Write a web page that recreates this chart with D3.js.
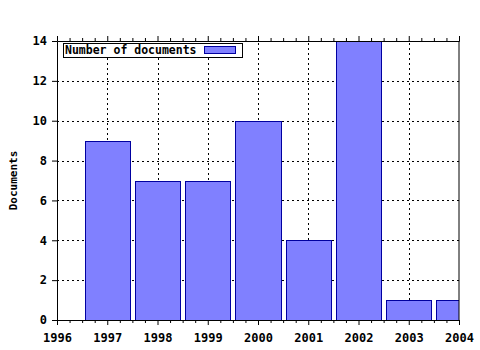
<!DOCTYPE html>
<html><head><meta charset="utf-8">
<script src="https://cdn.jsdelivr.net/npm/d3@7"></script>
<style>body{margin:0;background:#fff}svg{display:block}</style>
</head><body>
<script>
const years = [1997, 1998, 1999, 2000, 2001, 2002, 2003, 2004];
const docs = [9, 7, 7, 10, 4, 14, 1, 1];
const xTicks = [1996, 1997, 1998, 1999, 2000, 2001, 2002, 2003, 2004];
const yTicks = [0, 2, 4, 6, 8, 10, 12, 14];
const seriesName = "Number of documents";
const yTitle = "Documents";

const W = 480, H = 350;
const m = {left: 57, right: 21, top: 41, bottom: 30};
const svg = d3.select("body").append("svg").attr("width", W).attr("height", H);
const x = d3.scaleLinear().domain([1996, 2004]).range([m.left, W - m.right]);
const y = d3.scaleLinear().domain([0, 14]).range([H - m.bottom, m.top]);
const font = "'DejaVu Sans Mono', monospace";

svg.append("clipPath").attr("id", "c").append("rect")
  .attr("x", m.left).attr("y", m.top).attr("width", x(2004) - m.left).attr("height", y(0) - m.top);

// grid
const g = svg.append("g");
g.selectAll(".gx").data(xTicks.slice(1, -1)).join("line")
  .attr("x1", d => Math.round(x(d)) + 0.5).attr("x2", d => Math.round(x(d)) + 0.5)
  .attr("y1", y(0)).attr("y2", y(14))
  .attr("stroke", "#000").attr("stroke-dasharray", "2,3").attr("stroke-width", 1);
g.selectAll(".gy").data(yTicks.slice(1, -1)).join("line")
  .attr("y1", d => Math.round(y(d)) + 0.5).attr("y2", d => Math.round(y(d)) + 0.5)
  .attr("x1", x(1996)).attr("x2", x(2004))
  .attr("stroke", "#000").attr("stroke-dasharray", "2,3").attr("stroke-width", 1);

// bars
const bw = 0.9;
svg.append("g").attr("clip-path", "url(#c)").selectAll("rect").data(years).join("rect")
  .attr("x", (d) => Math.round(x(d - bw / 2)) + 0.5)
  .attr("width", (d) => Math.round(x(d + bw / 2)) - Math.round(x(d - bw / 2)))
  .attr("y", (d, i) => Math.round(y(docs[i])) + 0.5)
  .attr("height", (d, i) => Math.round(y(0)) - Math.round(y(docs[i])))
  .attr("fill", "#8080ff").attr("stroke", "#0000a0").attr("stroke-width", 1);

// axes
const axG = svg.append("g");
const bottomAxis = d3.axisBottom(x).tickValues(xTicks).tickFormat(d3.format("d")).tickSizeInner(5).tickSizeOuter(0).tickPadding(8);
const bx = axG.append("g").attr("transform", `translate(0,${y(0)})`).call(bottomAxis);
const minor = d3.range(1996, 2004.001, 0.25).filter(v => Math.abs(v - Math.round(v)) > 0.01);
axG.append("g").attr("transform", `translate(0,${y(0)})`).call(d3.axisBottom(x).tickValues(minor).tickFormat("").tickSizeInner(3).tickSizeOuter(0));
axG.append("g").attr("transform", `translate(0,${y(14)})`).call(d3.axisTop(x).tickValues(xTicks).tickFormat("").tickSizeInner(5).tickSizeOuter(0));
axG.append("g").attr("transform", `translate(0,${y(14)})`).call(d3.axisTop(x).tickValues(minor).tickFormat("").tickSizeInner(3).tickSizeOuter(0));
const ly = axG.append("g").attr("transform", `translate(${x(1996)},0)`).call(d3.axisLeft(y).tickValues(yTicks).tickSizeInner(5).tickSizeOuter(0).tickPadding(5));
axG.append("line").attr("x1", x(2004)).attr("x2", x(2004)).attr("y1", y(0)).attr("y2", y(14)).attr("stroke", "#000");
axG.selectAll(".domain").attr("stroke", "#000");
axG.selectAll("text").attr("font-family", font).attr("font-weight", "bold").attr("font-size", 12).attr("fill", "#000");

// y title
svg.append("text").attr("transform", `translate(17,${(y(0) + y(14)) / 2}) rotate(-90)`)
  .attr("text-anchor", "middle").attr("font-family", font).attr("font-weight", "bold").attr("font-size", 11).text(yTitle);

// legend
const lg = svg.append("g");
lg.append("rect").attr("x", 63.5).attr("y", 43.5).attr("width", 179).attr("height", 14).attr("fill", "#fff").attr("stroke", "#000");
lg.append("text").attr("x", 65).attr("y", 54).attr("font-family", font).attr("font-weight", "bold").attr("font-size", 11.5).text(seriesName);
lg.append("rect").attr("x", 204.5).attr("y", 46.5).attr("width", 31).attr("height", 7).attr("fill", "#8080ff").attr("stroke", "#0000a0");
</script>
</body></html>
